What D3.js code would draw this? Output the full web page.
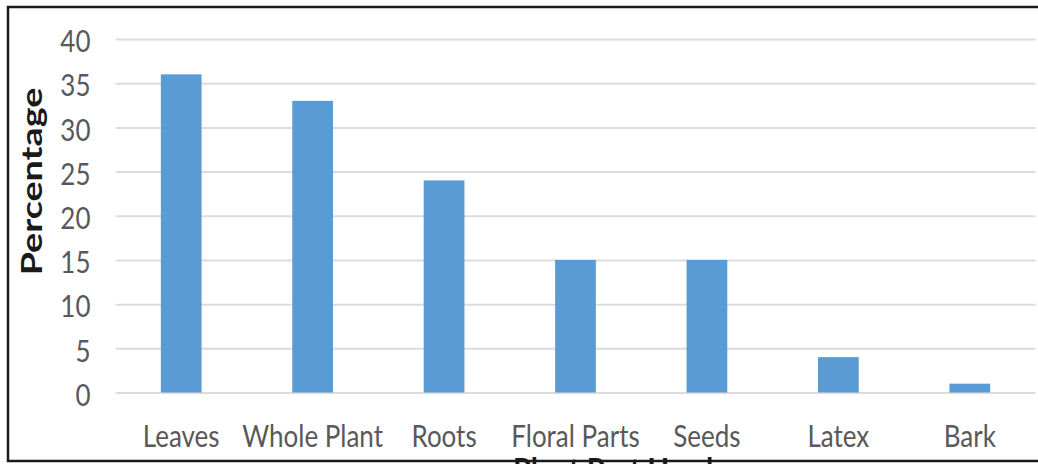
<!DOCTYPE html>
<html>
<head>
<meta charset="utf-8">
<script src="https://cdn.jsdelivr.net/npm/d3@7"></script>
<style>
  html, body { margin: 0; padding: 0; background: #fff; }
  svg { display: block; }
</style>
</head>
<body>
<svg id="chart" width="1038" height="464"></svg>
<script>
// Plant parts used and their share (%)
const categories = ["Leaves", "Whole Plant", "Roots", "Floral Parts", "Seeds", "Latex", "Bark"];
const percentages = [36, 33, 24, 15, 15, 4, 1];
const yTicks = [0, 5, 10, 15, 20, 25, 30, 35, 40];
const yTitle = "Percentage";
const xTitle = "Plant Part Used";

const svg = d3.select("#chart");
const W = 1038, H = 464;
const stretch = 1.16; // text is drawn slightly taller than wide

svg.append("rect").attr("width", W).attr("height", H).attr("fill", "#fff");

const x = d3.scaleBand()
  .domain(categories)
  .range([115.5, 1035.5])
  .paddingInner(0.69)
  .paddingOuter(0.345);

const y = d3.scaleLinear().domain([0, 40]).range([392.5, 39]);

// horizontal gridlines
const yAxis = d3.axisLeft(y)
  .tickValues(yTicks)
  .tickSize(-(1035.5 - 115.5))
  .tickPadding(0)
  .tickFormat(d3.format("d"));

const gy = svg.append("g")
  .attr("transform", "translate(115.5,0)")
  .call(yAxis);
gy.select(".domain").remove();
gy.selectAll(".tick line").attr("stroke", "#dcdcdc").attr("stroke-width", 2);
gy.selectAll(".tick text")
  .attr("x", null)
  .attr("dy", null)
  .attr("text-anchor", "end")
  .attr("dominant-baseline", "central")
  .attr("transform", `translate(-25,1) scale(1,${stretch})`)
  .attr("fill", "#595959")
  .style("font-family", "Lato, sans-serif")
  .style("font-size", "26px");

// bars
svg.append("g")
  .selectAll("rect")
  .data(categories.map((c, i) => ({ c, v: percentages[i] })))
  .join("rect")
  .attr("x", d => x(d.c))
  .attr("width", x.bandwidth())
  .attr("y", d => y(d.v))
  .attr("height", d => y(0) - y(d.v))
  .attr("fill", "#5b9bd5");

// category labels
const xAxis = d3.axisBottom(x).tickSize(0).tickPadding(0);
const gx = svg.append("g")
  .attr("transform", "translate(0,447)")
  .call(xAxis);
gx.select(".domain").remove();
gx.selectAll(".tick text")
  .attr("y", 0)
  .attr("dy", null)
  .attr("transform", `scale(1,${stretch})`)
  .attr("fill", "#595959")
  .style("font-family", "Lato, sans-serif")
  .style("font-size", "26px");

// axis titles
svg.append("text")
  .attr("transform", `translate(42,181.5) rotate(-90) scale(${stretch * 1.12},1)`)
  .attr("text-anchor", "middle")
  .attr("fill", "#1a1a1a")
  .style("font-family", "Lato, sans-serif")
  .style("font-weight", "700")
  .style("font-size", "29px")
  .text(yTitle);

// x title sits below the frame, mostly outside the visible area
svg.append("text")
  .attr("transform", `translate(613,483) scale(1,${stretch})`)
  .attr("text-anchor", "middle")
  .attr("fill", "#1a1a1a")
  .style("font-family", "Lato, sans-serif")
  .style("font-weight", "700")
  .style("font-size", "29px")
  .text(xTitle);

// frame
svg.append("path")
  .attr("d", `M${W + 2},7 H8 V461 H${W + 2}`)
  .attr("fill", "none")
  .attr("stroke", "#1a1a1a")
  .attr("stroke-width", 2.5);
</script>
</body>
</html>
